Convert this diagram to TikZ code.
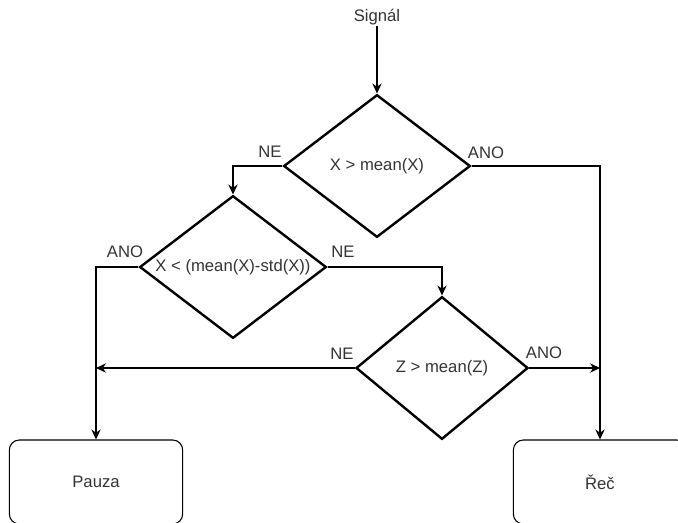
\documentclass[tikz,border=0pt]{standalone}
\usepackage{fontspec}
\setmainfont{Liberation Sans}
\usepackage{xcolor}
\definecolor{ink}{HTML}{333333}
\usepackage{tikz}
\usetikzlibrary{arrows.meta,positioning,shapes.geometric}
\tikzset{
    decision/.style={diamond, draw=black, line width=1.8pt, inner sep=0pt, text=ink, font=\fontsize{12.5}{15}\selectfont, minimum width=140pt, minimum height=107pt},
    outcome/.style={draw=black, rounded corners=7.5pt, line width=0.8pt, text=ink, font=\fontsize{12.5}{15}\selectfont, minimum width=130pt, minimum height=63pt},
    branch/.style={text=ink, font=\fontsize{12.5}{15}\selectfont, inner sep=1pt},
    arrow/.style={-{Stealth[length=7.5pt, width=7pt]}, line width=0.9pt}
}

\begin{document}
\begin{tikzpicture}[x=0.75pt, y=-0.75pt]
  \useasboundingbox (0,0) rectangle (678,522);
  \clip (0,0) rectangle (678,522);

  % Input
  \node[branch] (signal) at (377,17) {Signál};

  % Decisions
  \node[decision] (mean_x) at (377,166) {\makebox[0pt]{X > mean(X)}};
  \node[decision] (std_x) at (233,267) {\makebox[0pt]{X < (mean(X)-std(X))}};
  \node[decision, minimum width=129pt] (mean_z) at (442,368) {\makebox[0pt]{Z > mean(Z)}};

  % Outcomes
  \node[outcome] (pauza) at (96,482) {Pauza};
  \node[outcome] (rec) at (600,482) {Řeč};

  % Junctions on the outcome lines
  \coordinate (pauza_join) at (96,368);
  \coordinate (rec_join) at (600,368);

  % Connectors
  \draw[arrow] (signal) -- (mean_x);
  \draw[arrow] (mean_x.west) -| (std_x.north);
  \draw[arrow] (mean_x.east) -| (rec.north);
  \draw[arrow] (std_x.west) -| (pauza.north);
  \draw[arrow] (std_x.east) -| (mean_z.north);
  \draw[arrow] (mean_z.west) -- (pauza_join);
  \draw[arrow] (mean_z.east) -- (rec_join);

  % Branch labels
  \node[branch] (ne_1) at (270,152) {NE};
  \node[branch] (ano_1) at (486,153) {ANO};
  \node[branch] (ano_2) at (125,252) {ANO};
  \node[branch] (ne_2) at (343,252) {NE};
  \node[branch] (ne_3) at (342,354) {NE};
  \node[branch] (ano_3) at (544,353) {ANO};
\end{tikzpicture}
\end{document}
